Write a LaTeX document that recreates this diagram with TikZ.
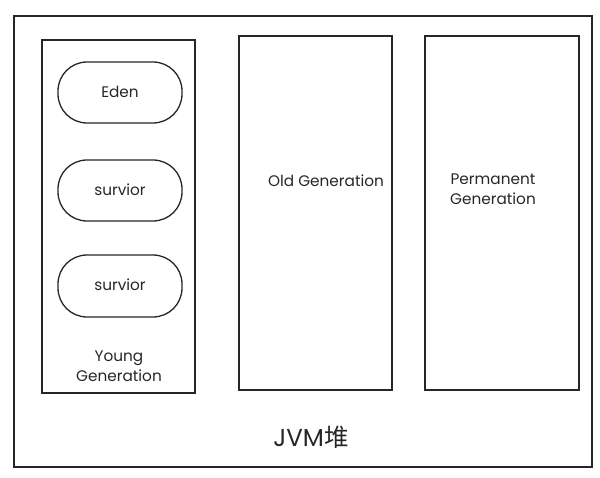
\documentclass[tikz,border=0pt]{standalone}
\usepackage{fontspec}
\setmainfont{Poppins}
\newfontfamily\cjk{Noto Sans CJK SC}
\usetikzlibrary{shapes.misc}
\begin{document}
\begin{tikzpicture}[x=1pt,y=-1pt,
  box/.style={draw=black!85,line width=1.3pt},
  pill/.style={draw=black!85,line width=1.3pt,rounded corners=29pt},
  lbl/.style={font=\fontsize{15.3}{19.5}\selectfont,align=center,text=black!85}]
\useasboundingbox (0,0) rectangle (600,478);
\draw[box] (14,16) rectangle (592,467);
\draw[box] (42,40) rectangle (195,393);
\draw[box] (239,36) rectangle (392,390);
\draw[box] (425,36) rectangle (579,390);
\draw[pill] (58,62) rectangle (182,123);
\draw[pill] (58,160) rectangle (182,221);
\draw[pill] (58,255) rectangle (182,317);
\node[lbl] (eden) at (120,92) {Eden};
\node[lbl] (s1) at (120,190) {survior};
\node[lbl] (s2) at (120,285) {survior};
\node[lbl] (young) at (119,366) {Young\\Generation};
\node[lbl] (old) at (326,181) {Old Generation};
\node[lbl] (perm) at (493,189) {Permanent\\Generation};
\node[font=\fontsize{24.5}{28}\selectfont,text=black!85] (jvm) at (311,437) {JVM{\cjk 堆}};
\end{tikzpicture}
\end{document}
